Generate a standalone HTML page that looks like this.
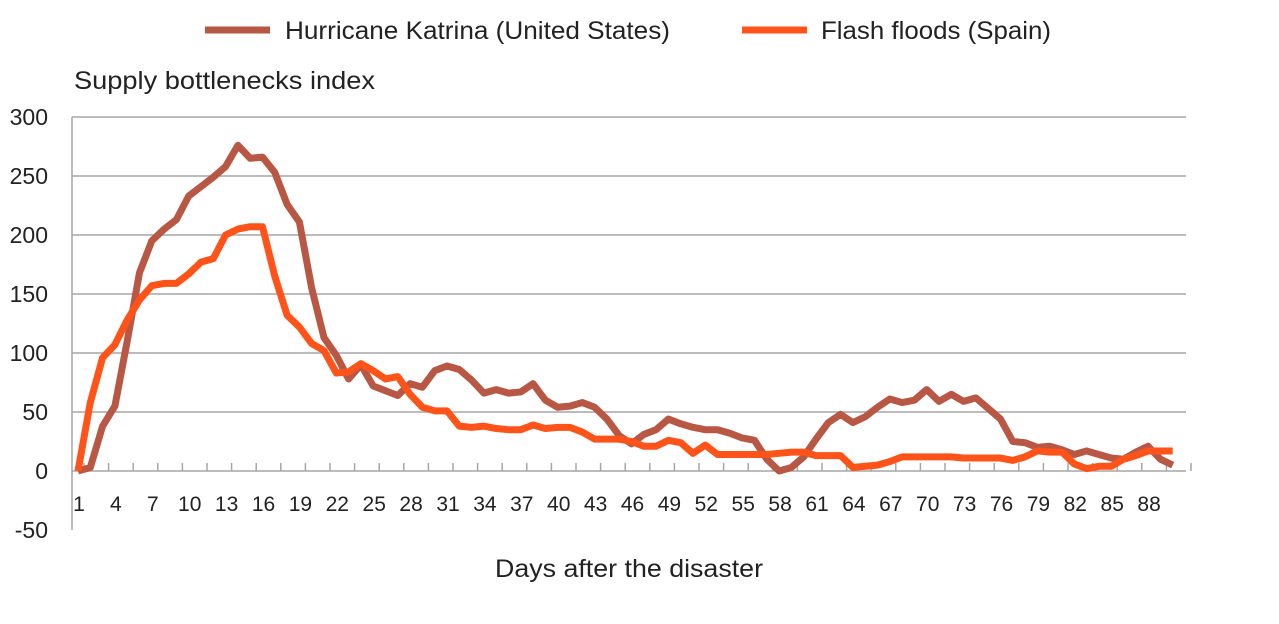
<!DOCTYPE html>
<html><head><meta charset="utf-8"><style>
body{margin:0;background:#fff;}
svg{display:block;font-family:"Liberation Sans",Arial,sans-serif;}
</style></head><body>
<svg id="s" width="1279" height="624" xmlns="http://www.w3.org/2000/svg">
<rect width="1279" height="624" fill="#fff"/>
<g id="grid" stroke="#a6a6a6" stroke-width="1.5"></g>
<g id="lab" font-size="23" fill="#222"></g>
<line x1="205" y1="30" x2="270" y2="30" stroke="#b85744" stroke-width="7"/>
<text x="285" y="39" font-size="25" fill="#222" textLength="385" lengthAdjust="spacingAndGlyphs">Hurricane Katrina (United States)</text>
<line x1="742" y1="30" x2="807" y2="30" stroke="#ff5319" stroke-width="7"/>
<text x="821" y="39" font-size="25" fill="#222" textLength="230" lengthAdjust="spacingAndGlyphs">Flash floods (Spain)</text>
<text x="74" y="89" font-size="25" fill="#222" textLength="301" lengthAdjust="spacingAndGlyphs">Supply bottlenecks index</text>
<text x="495" y="577" font-size="25" fill="#222" textLength="268" lengthAdjust="spacingAndGlyphs">Days after the disaster</text>
<polyline id="k" fill="none" stroke="#b85744" stroke-width="7" stroke-linejoin="round"/>
<polyline id="f" fill="none" stroke="#ff5319" stroke-width="7" stroke-linejoin="round"/>
</svg>
<script>
var K=[0,3,38,55,110,168,195,205,213,233,241,249,258,276,265,266,253,226,211,155,113,98,78,90,72,68,64,74,71,85,89,86,77,66,69,66,67,74,60,54,55,58,54,44,30,23,31,35,44,40,37,35,35,32,28,26,10,0,3,12,27,41,48,41,46,54,61,58,60,69,59,65,59,62,53,44,25,24,20,21,18,14,17,14,11,10,16,21,10,5];
var F=[0,58,96,107,128,145,157,159,159,167,177,180,200,205,207,207,165,132,122,108,102,83,84,91,85,78,80,65,54,51,51,38,37,38,36,35,35,39,36,37,37,33,27,27,27,25,21,21,26,24,15,22,14,14,14,14,14,15,16,16,13,13,13,3,4,5,8,12,12,12,12,12,11,11,11,11,9,12,17,16,16,6,2,4,4,10,13,17,17,17];
function X(d){return 78+(d-1)*12.3}
function Y(v){return 471-v*1.18}
var ns="http://www.w3.org/2000/svg";
function el(t,a,p,txt){var e=document.createElementNS(ns,t);for(var k in a)e.setAttribute(k,a[k]);if(txt!=null)e.textContent=txt;p.appendChild(e);return e}
var g=document.getElementById('grid'),L=document.getElementById('lab');
for(var v=-50;v<=300;v+=50){var y=Y(v);
 if(v!==-50&&v!==0)el('line',{x1:72,x2:1186,y1:y,y2:y},g);
 el('text',{x:48,y:y+8,'text-anchor':'end'},L,String(v));}
el('line',{x1:72,x2:1186,y1:Y(0),y2:Y(0)},g);
el('line',{x1:72,x2:72,y1:Y(300),y2:Y(-50)},g);
for(var d=1;d<=91;d+=2){var x=X(d)+6;el('line',{x1:x,x2:x,y1:Y(0)-8,y2:Y(0)},g);}
for(var d=1;d<=88;d+=3){el('text',{x:X(d)+1,y:Y(0)+40,'text-anchor':'middle','font-size':21},L,String(d));}
function pts(a){return a.map(function(v,i){return X(i+1)+','+Y(v)}).join(' ')}
document.getElementById('k').setAttribute('points',pts(K));
document.getElementById('f').setAttribute('points',pts(F));
</script>
</body></html>
